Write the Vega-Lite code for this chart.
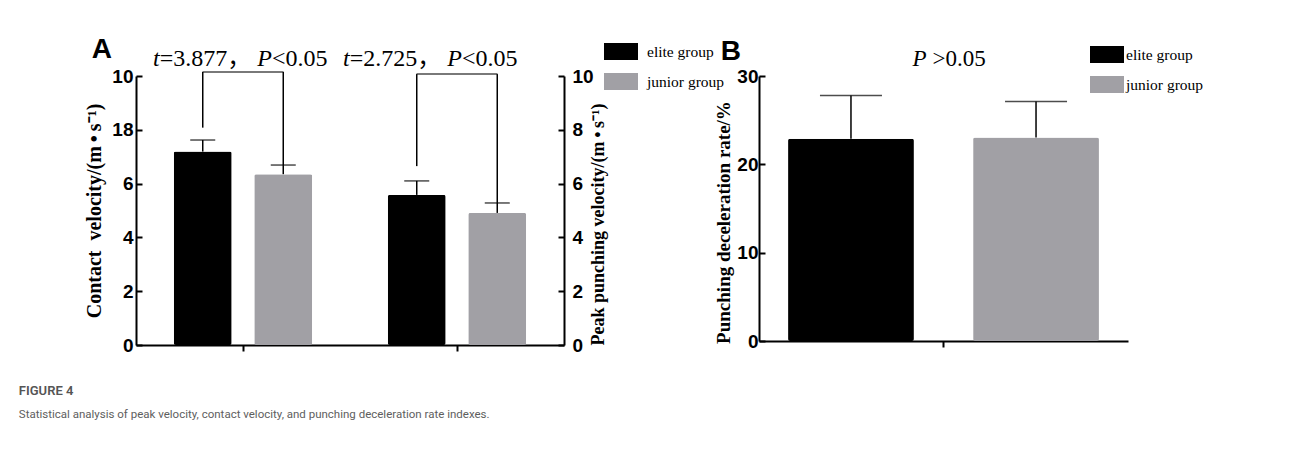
{
  "$schema": "https://vega.github.io/schema/vega-lite/v6.json",
  "background": "white",
  "padding": {"left": 18, "top": 34, "right": 5, "bottom": 5},
  "title": {
    "text": "FIGURE 4",
    "subtitle": "Statistical analysis of peak velocity, contact velocity, and punching deceleration rate indexes.",
    "orient": "bottom",
    "anchor": "start",
    "frame": "bounds",
    "dx": -66,
    "offset": 30,
    "font": "Roboto, sans-serif",
    "fontSize": 13,
    "fontWeight": 600,
    "color": "#555555",
    "subtitleFont": "Roboto, sans-serif",
    "subtitleFontSize": 11.5,
    "subtitleColor": "#5e5e5e",
    "subtitlePadding": 11
  },
  "datasets": {
    "A": [
      {"measure": "contact", "group": "elite group", "mean": 7.19, "upper": 7.62},
      {"measure": "contact", "group": "junior group", "mean": 6.35, "upper": 6.69},
      {"measure": "peak", "group": "elite group", "mean": 5.58, "upper": 6.1},
      {"measure": "peak", "group": "junior group", "mean": 4.91, "upper": 5.28}
    ],
    "Alegs": [
      {"measure": "contact", "group": "elite group", "low": 8.08, "high": 10.15},
      {"measure": "contact", "group": "junior group", "low": 6.69, "high": 10.15},
      {"measure": "peak", "group": "elite group", "low": 6.65, "high": 10.07},
      {"measure": "peak", "group": "junior group", "low": 5.28, "high": 10.07}
    ],
    "Atops": [
      {"measure": "contact", "high": 10.15},
      {"measure": "peak", "high": 10.07}
    ],
    "Atext": [
      {"measure": "contact", "t1": "t", "t2": "=3.877，", "t3": "P", "t4": "<0.05", "ty": 10.37},
      {"measure": "peak", "t1": "t", "t2": "=2.725，", "t3": "P", "t4": "<0.05", "ty": 10.37}
    ],
    "B": [
      {"cat": "B", "group": "elite group", "mean": 22.9, "upper": 27.8},
      {"cat": "B", "group": "junior group", "mean": 23.05, "upper": 27.1}
    ],
    "Btext": [
      {"cat": "B", "t1": "P", "t2": ">0.05", "ty": 31.1}
    ]
  },
  "bounds": "flush",
  "spacing": 195,
  "resolve": {"scale": {"color": "independent", "xOffset": "independent", "x": "independent", "y": "independent"}, "legend": {"color": "independent"}},
  "hconcat": [
    {
      "width": 428,
      "height": 269,
      "title": {"text": "A", "anchor": "start", "frame": "bounds", "dx": 7, "offset": -29, "font": "Liberation Sans", "fontSize": 28, "fontWeight": "bold", "color": "#000000"},
      "resolve": {"scale": {"y": "shared"}, "axis": {"y": "independent"}},
      "layer": [
        {
          "data": {"name": "A"},
          "mark": {"type": "bar", "cornerRadius": 2},
          "encoding": {
            "x": {"field": "measure", "type": "nominal", "sort": ["contact", "peak"], "scale": {"paddingInner": 0, "paddingOuter": 0}, "axis": {"title": null, "labels": false, "orient": "bottom"}},
            "xOffset": {"field": "group", "type": "nominal", "sort": ["elite group", "junior group"], "scale": {"paddingInner": 0.28, "paddingOuter": 0.469}},
            "y": {"field": "mean", "type": "quantitative", "scale": {"domain": [0, 10], "nice": false}, "axis": {"orient": "left", "values": [0, 2, 4, 6, 8, 10], "labelExpr": "datum.value == 8 ? '18' : datum.label", "tickSize": -6, "labelPadding": 9, "title": "Contact\u00a0 velocity/(m\u2009•\u2009s⁻¹)", "titleFontSize": 20, "titlePadding": 7}},
            "color": {"field": "group", "type": "nominal", "scale": {"domain": ["elite group", "junior group"], "range": ["#000000", "#a1a0a5"]}, "legend": {"orient": "none", "legendX": 468, "legendY": -41.5, "title": null, "symbolType": "M-1,-0.5H1V0.5H-1Z", "symbolSize": 1156, "symbolStrokeWidth": 0, "labelOffset": 9, "rowPadding": 4, "padding": 0, "labelFont": "Liberation Serif", "labelFontSize": 15.5, "labelColor": "#000000"}}
          }
        },
        {
          "data": {"name": "A"},
          "mark": {"type": "rule", "color": "#000000", "strokeWidth": 1.5},
          "encoding": {
            "x": {"field": "measure", "type": "nominal", "sort": ["contact", "peak"]},
            "xOffset": {"field": "group", "type": "nominal", "sort": ["elite group", "junior group"]},
            "y": {"field": "mean", "type": "quantitative", "axis": null},
            "y2": {"field": "upper"}
          }
        },
        {
          "data": {"name": "A"},
          "mark": {"type": "tick", "color": "#000000", "thickness": 1.5, "size": 25, "orient": "horizontal"},
          "encoding": {
            "x": {"field": "measure", "type": "nominal", "sort": ["contact", "peak"]},
            "xOffset": {"field": "group", "type": "nominal", "sort": ["elite group", "junior group"]},
            "y": {"field": "upper", "type": "quantitative", "axis": null}
          }
        },
        {
          "data": {"name": "Alegs"},
          "mark": {"type": "rule", "color": "#000000", "strokeWidth": 1.5},
          "encoding": {
            "x": {"field": "measure", "type": "nominal", "sort": ["contact", "peak"]},
            "xOffset": {"field": "group", "type": "nominal", "sort": ["elite group", "junior group"]},
            "y": {"field": "low", "type": "quantitative", "axis": null},
            "y2": {"field": "high"}
          }
        },
        {
          "data": {"name": "Atops"},
          "mark": {"type": "tick", "color": "#000000", "thickness": 1.5, "size": 81, "orient": "horizontal"},
          "encoding": {
            "x": {"field": "measure", "type": "nominal", "sort": ["contact", "peak"]},
            "y": {"field": "high", "type": "quantitative", "axis": null}
          }
        },
        {
          "data": {"name": "Atext"},
          "transform": [{"filter": "datum.measure == 'contact'"}],
          "mark": {"type": "text", "font": "Liberation Serif", "fontStyle": "italic", "fontSize": 24, "color": "#000000", "baseline": "alphabetic", "align": "left", "dx": -90},
          "encoding": {"x": {"field": "measure", "type": "nominal", "sort": ["contact", "peak"]}, "y": {"field": "ty", "type": "quantitative", "axis": null}, "text": {"field": "t1"}}
        },
        {
          "data": {"name": "Atext"},
          "transform": [{"filter": "datum.measure == 'contact'"}],
          "mark": {"type": "text", "font": "Liberation Serif, Noto Sans CJK SC", "fontSize": 24, "color": "#000000", "baseline": "alphabetic", "align": "left", "dx": -83.3},
          "encoding": {"x": {"field": "measure", "type": "nominal", "sort": ["contact", "peak"]}, "y": {"field": "ty", "type": "quantitative", "axis": null}, "text": {"field": "t2"}}
        },
        {
          "data": {"name": "Atext"},
          "transform": [{"filter": "datum.measure == 'contact'"}],
          "mark": {"type": "text", "font": "Liberation Serif", "fontStyle": "italic", "fontSize": 24, "color": "#000000", "baseline": "alphabetic", "align": "left", "dx": 14.2},
          "encoding": {"x": {"field": "measure", "type": "nominal", "sort": ["contact", "peak"]}, "y": {"field": "ty", "type": "quantitative", "axis": null}, "text": {"field": "t3"}}
        },
        {
          "data": {"name": "Atext"},
          "transform": [{"filter": "datum.measure == 'contact'"}],
          "mark": {"type": "text", "font": "Liberation Serif", "fontSize": 24, "color": "#000000", "baseline": "alphabetic", "align": "left", "dx": 28.9},
          "encoding": {"x": {"field": "measure", "type": "nominal", "sort": ["contact", "peak"]}, "y": {"field": "ty", "type": "quantitative", "axis": null}, "text": {"field": "t4"}}
        },
        {
          "data": {"name": "Atext"},
          "transform": [{"filter": "datum.measure == 'peak'"}],
          "mark": {"type": "text", "font": "Liberation Serif", "fontStyle": "italic", "fontSize": 24, "color": "#000000", "baseline": "alphabetic", "align": "left", "dx": -114},
          "encoding": {"x": {"field": "measure", "type": "nominal", "sort": ["contact", "peak"]}, "y": {"field": "ty", "type": "quantitative", "axis": null}, "text": {"field": "t1"}}
        },
        {
          "data": {"name": "Atext"},
          "transform": [{"filter": "datum.measure == 'peak'"}],
          "mark": {"type": "text", "font": "Liberation Serif, Noto Sans CJK SC", "fontSize": 24, "color": "#000000", "baseline": "alphabetic", "align": "left", "dx": -107.3},
          "encoding": {"x": {"field": "measure", "type": "nominal", "sort": ["contact", "peak"]}, "y": {"field": "ty", "type": "quantitative", "axis": null}, "text": {"field": "t2"}}
        },
        {
          "data": {"name": "Atext"},
          "transform": [{"filter": "datum.measure == 'peak'"}],
          "mark": {"type": "text", "font": "Liberation Serif", "fontStyle": "italic", "fontSize": 24, "color": "#000000", "baseline": "alphabetic", "align": "left", "dx": -9.8},
          "encoding": {"x": {"field": "measure", "type": "nominal", "sort": ["contact", "peak"]}, "y": {"field": "ty", "type": "quantitative", "axis": null}, "text": {"field": "t3"}}
        },
        {
          "data": {"name": "Atext"},
          "transform": [{"filter": "datum.measure == 'peak'"}],
          "mark": {"type": "text", "font": "Liberation Serif", "fontSize": 24, "color": "#000000", "baseline": "alphabetic", "align": "left", "dx": 4.9},
          "encoding": {"x": {"field": "measure", "type": "nominal", "sort": ["contact", "peak"]}, "y": {"field": "ty", "type": "quantitative", "axis": null}, "text": {"field": "t4"}}
        },
        {
          "data": {"name": "A"},
          "mark": {"type": "point", "opacity": 0},
          "encoding": {
            "x": {"field": "measure", "type": "nominal", "sort": ["contact", "peak"]},
            "y": {"field": "mean", "type": "quantitative", "axis": {"orient": "right", "values": [0, 2, 4, 6, 8, 10], "tickSize": -6, "labelPadding": 14, "title": "Peak punching velocity/(m\u2009•\u2009s⁻¹)", "titleAngle": 270, "titleFontSize": 18, "titlePadding": 14, "titleY": 148}}
          }
        }
      ]
    },
    {
      "width": 369,
      "height": 265,
      "title": {"text": "B", "anchor": "start", "frame": "bounds", "dx": 6, "offset": -28, "font": "Liberation Sans", "fontSize": 28, "fontWeight": "bold", "color": "#000000"},
      "layer": [
        {
          "data": {"name": "B"},
          "mark": {"type": "bar", "cornerRadius": 2},
          "encoding": {
            "x": {"field": "cat", "type": "nominal", "scale": {"paddingInner": 0, "paddingOuter": 0}, "axis": {"title": null, "labels": false, "orient": "bottom"}},
            "xOffset": {"field": "group", "type": "nominal", "sort": ["elite group", "junior group"], "scale": {"paddingInner": 0.32, "paddingOuter": 0.157}},
            "y": {"field": "mean", "type": "quantitative", "scale": {"domain": [0, 30], "nice": false}, "axis": {"orient": "left", "values": [0, 10, 20, 30], "tickSize": -6, "labelPadding": 7, "title": "Punching deceleration rate/%", "titleFontSize": 19, "titlePadding": 3, "titleY": 146}},
            "color": {"field": "group", "type": "nominal", "scale": {"domain": ["elite group", "junior group"], "range": ["#000000", "#a1a0a5"]}, "legend": {"orient": "none", "legendX": 331, "legendY": -38.5, "title": null, "symbolType": "M-1,-0.5H1V0.5H-1Z", "symbolSize": 1156, "symbolStrokeWidth": 0, "labelOffset": 2, "rowPadding": 4, "padding": 0, "labelFont": "Liberation Serif", "labelFontSize": 15.5, "labelColor": "#000000"}}
          }
        },
        {
          "data": {"name": "B"},
          "mark": {"type": "rule", "color": "#000000", "strokeWidth": 1.5},
          "encoding": {
            "x": {"field": "cat", "type": "nominal"},
            "xOffset": {"field": "group", "type": "nominal", "sort": ["elite group", "junior group"]},
            "y": {"field": "mean", "type": "quantitative"},
            "y2": {"field": "upper"}
          }
        },
        {
          "data": {"name": "B"},
          "mark": {"type": "tick", "color": "#000000", "thickness": 1.5, "size": 62, "orient": "horizontal"},
          "encoding": {
            "x": {"field": "cat", "type": "nominal"},
            "xOffset": {"field": "group", "type": "nominal", "sort": ["elite group", "junior group"]},
            "y": {"field": "upper", "type": "quantitative"}
          }
        },
        {
          "data": {"name": "Btext"},
          "mark": {"type": "text", "font": "Liberation Serif", "fontStyle": "italic", "fontSize": 23, "color": "#000000", "baseline": "alphabetic", "align": "left", "dx": -31},
          "encoding": {"x": {"field": "cat", "type": "nominal"}, "y": {"field": "ty", "type": "quantitative"}, "text": {"field": "t1"}}
        },
        {
          "data": {"name": "Btext"},
          "mark": {"type": "text", "font": "Liberation Serif", "fontSize": 23, "color": "#000000", "baseline": "alphabetic", "align": "left", "dx": -11},
          "encoding": {"x": {"field": "cat", "type": "nominal"}, "y": {"field": "ty", "type": "quantitative"}, "text": {"field": "t2"}}
        }
      ]
    }
  ],
  "config": {
    "view": {"stroke": null},
    "axis": {
      "grid": false,
      "domainColor": "#000000",
      "domainWidth": 2,
      "tickColor": "#000000",
      "tickWidth": 2,
      "tickSize": 6,
      "labelFont": "Liberation Sans",
      "labelFontWeight": "bold",
      "labelFontSize": 19,
      "labelColor": "#000000",
      "labelPadding": 2,
      "titleFont": "Liberation Serif",
      "titleFontWeight": "bold",
      "titleColor": "#000000"
    }
  }
}
